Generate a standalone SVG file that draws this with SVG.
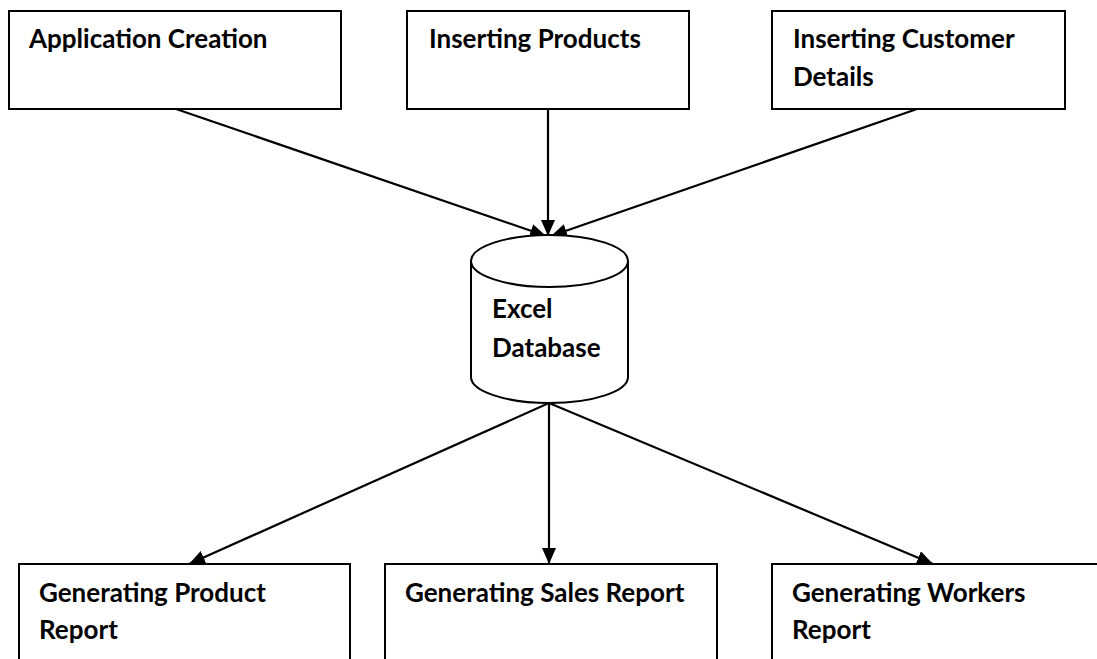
<svg xmlns="http://www.w3.org/2000/svg" width="1097" height="659" viewBox="0 0 1097 659">
  <style>
    .box { fill: #fff; stroke: #000; stroke-width: 2; }
    .lbl { font-family: Lato, "Liberation Sans", sans-serif; font-weight: bold; font-size: 26px; fill: #000; }
    .edge { stroke: #000; stroke-width: 2.2; fill: none; marker-end: url(#arrow); }
  </style>
  <defs>
    <marker id="arrow" viewBox="0 0 16 14" refX="16" refY="7" markerWidth="16" markerHeight="14" markerUnits="userSpaceOnUse" orient="auto">
      <path d="M0,0 L16,7 L0,14 z" fill="#000"/>
    </marker>
  </defs>
  <rect width="1097" height="659" fill="#fff"/>

  <g id="connectors">
    <line class="edge" x1="176" y1="109" x2="546" y2="236"/>
    <line class="edge" x1="548" y1="109" x2="548" y2="236"/>
    <line class="edge" x1="917" y1="109" x2="551" y2="236"/>
    <line class="edge" x1="549" y1="403" x2="189" y2="564"/>
    <line class="edge" x1="549" y1="403" x2="549" y2="564"/>
    <line class="edge" x1="549" y1="403" x2="933" y2="564"/>
  </g>

  <g id="app-creation">
    <rect class="box" x="9" y="11" width="332" height="98"/>
    <text class="lbl" x="29" y="48">Application Creation</text>
  </g>
  <g id="inserting-products">
    <rect class="box" x="407" y="11" width="282" height="98"/>
    <text class="lbl" x="429" y="48">Inserting Products</text>
  </g>
  <g id="inserting-customer">
    <rect class="box" x="772" y="11" width="293" height="98"/>
    <text class="lbl" x="793" y="48">Inserting Customer</text>
    <text class="lbl" x="793" y="86">Details</text>
  </g>

  <g id="excel-db">
    <path class="box" d="M471,261 L471,377 A78.5,26 0 0 0 628,377 L628,261"/>
    <ellipse class="box" cx="549.5" cy="261" rx="78.5" ry="26"/>
    <text class="lbl" x="492" y="318">Excel</text>
    <text class="lbl" x="492" y="357">Database</text>
  </g>

  <g id="product-report">
    <rect class="box" x="19" y="564" width="331" height="110"/>
    <text class="lbl" x="39" y="602">Generating Product</text>
    <text class="lbl" x="39" y="639">Report</text>
  </g>
  <g id="sales-report">
    <rect class="box" x="385" y="564" width="332" height="110"/>
    <text class="lbl" x="405" y="602">Generating Sales Report</text>
  </g>
  <g id="workers-report">
    <rect class="box" x="772" y="564" width="340" height="110"/>
    <text class="lbl" x="792" y="602">Generating Workers</text>
    <text class="lbl" x="792" y="639">Report</text>
  </g>
</svg>
